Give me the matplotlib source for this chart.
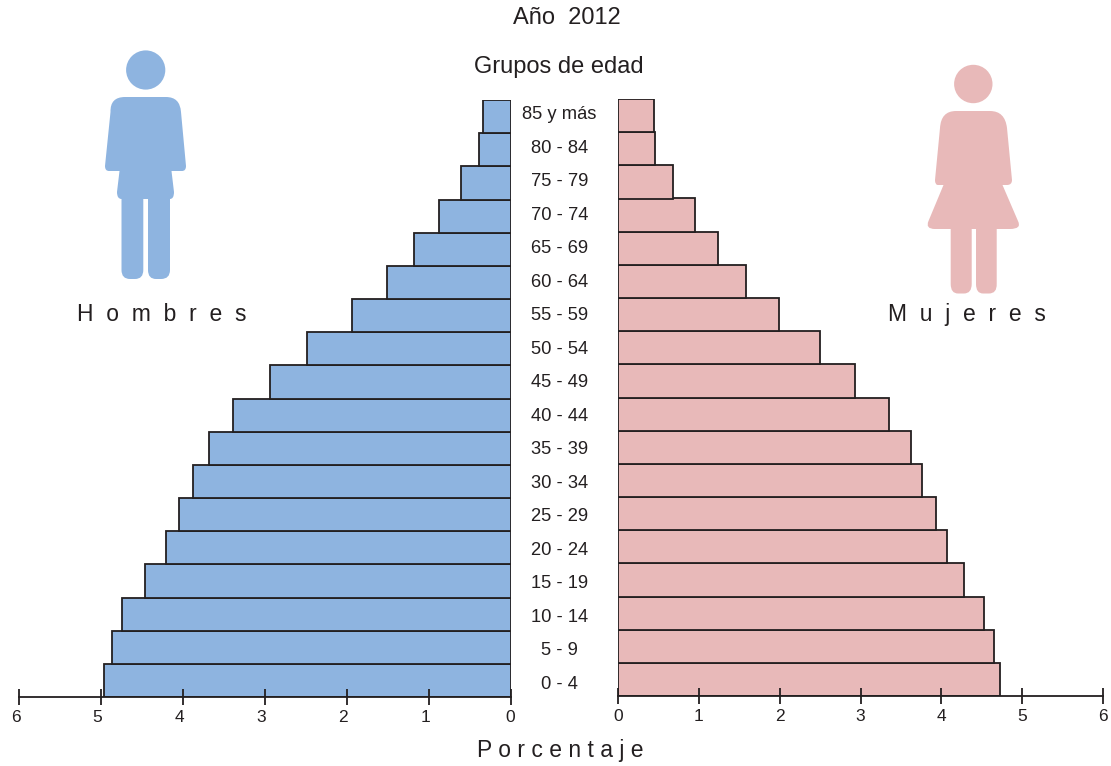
import matplotlib
matplotlib.use('Agg')
import matplotlib.pyplot as plt
from matplotlib.path import Path
from matplotlib.patches import PathPatch, Circle
from matplotlib.transforms import ScaledTranslation

plt.rcParams['font.family'] = ['Liberation Sans', 'DejaVu Sans']

# groups from the bottom of the pyramid upwards
age_groups = ['0 - 4', '5 - 9', '10 - 14', '15 - 19', '20 - 24', '25 - 29', '30 - 34', '35 - 39', '40 - 44',
              '45 - 49', '50 - 54', '55 - 59', '60 - 64', '65 - 69', '70 - 74', '75 - 79', '80 - 84', '85 y más']
men = [4.96, 4.87, 4.74, 4.46, 4.21, 4.05, 3.88, 3.68, 3.39,
       2.94, 2.48, 1.94, 1.51, 1.18, 0.87, 0.60, 0.385, 0.34]
women = [4.73, 4.65, 4.53, 4.28, 4.07, 3.94, 3.76, 3.63, 3.35,
         2.93, 2.50, 1.99, 1.58, 1.24, 0.95, 0.68, 0.46, 0.445]
ticks = [0, 1, 2, 3, 4, 5, 6]

W, H = 1111, 766
BLUE = '#8eb4e0'
PINK = '#e8b9b9'
INK = '#231f20'


def px_axes(fig, x0, x1, y_top, y_bottom):
    return fig.add_axes([x0 / W, 1 - y_bottom / H, (x1 - x0) / W, (y_bottom - y_top) / H])


def style_axis(ax):
    for side in ['top', 'left', 'right']:
        ax.spines[side].set_visible(False)
    ax.spines['bottom'].set_linewidth(1.3)
    ax.spines['bottom'].set_color(INK)
    ax.set_ylim(0, 18)
    ax.set_yticks([])
    ax.set_xticks(ticks)
    ax.tick_params(axis='x', direction='inout', length=11, width=1.3, color=INK,
                   labelcolor=INK, labelsize=12.5, pad=4)
    ax.patch.set_alpha(0)


def smooth_shape(ax, points, color):
    # each point is (x, y, rounded?); rounded corners become quadratic curves
    verts, codes = [], []
    for i, (x, y, rounded) in enumerate(points):
        if i == 0:
            verts.append((x, y))
            codes.append(Path.MOVETO)
        elif rounded:
            nx, ny, _ = points[(i + 1) % len(points)]
            verts += [(x, y), (nx, ny)]
            codes += [Path.CURVE3, Path.CURVE3]
        elif not points[i - 1][2]:
            verts.append((x, y))
            codes.append(Path.LINETO)
    verts.append(verts[0])
    codes.append(Path.CLOSEPOLY)
    ax.add_patch(PathPatch(Path(verts, codes), facecolor=color, edgecolor='none'))


fig = plt.figure(figsize=(W / 100, H / 100), dpi=100)

ax_m = px_axes(fig, 19, 510.5, 100, 697)
ax_m.barh(range(18), men, height=1, align='edge', color=BLUE, edgecolor=INK, linewidth=1.3)
ax_m.set_xlim(6, 0)
style_axis(ax_m)
# labels on the men's side sit a little left of their ticks, except the 0
shift = ScaledTranslation(-3.5 / 100, 0, fig.dpi_scale_trans)
for lab, t in zip(ax_m.get_xticklabels(), ticks):
    if t != 0:
        lab.set_transform(lab.get_transform() + shift)

ax_w = px_axes(fig, 618, 1103, 99, 696)
ax_w.barh(range(18), women, height=1, align='edge', color=PINK, edgecolor=INK, linewidth=1.3)
ax_w.set_xlim(0, 6)
style_axis(ax_w)

# overlay in pixel coordinates for the texts and the figures
ov = fig.add_axes([0, 0, 1, 1])
ov.set_xlim(0, W)
ov.set_ylim(H, 0)
ov.axis('off')
ov.patch.set_alpha(0)

for i, label in enumerate(age_groups):
    ov.text(559.5, 684.5 - i * 33.53, label, ha='center', va='center', fontsize=13.2, color=INK)

ov.text(567, 17.5, 'Año  2012', ha='center', va='center', fontsize=17, color=INK)
ov.text(559, 66.5, 'Grupos de edad', ha='center', va='center', fontsize=17, color=INK)
ov.text(162, 314.5, 'H  o  m  b  r  e  s', ha='center', va='center', fontsize=16.5, color=INK)
ov.text(966.5, 314.5, 'M  u  j  e  r  e  s', ha='center', va='center', fontsize=16.5, color=INK)
ov.text(560.5, 750, 'P o r c e n t a j e', ha='center', va='center', fontsize=16.5, color=INK)

# man
ov.add_patch(Circle((145.7, 70), 19.6, facecolor=BLUE, edgecolor='none'))
man = [(125, 97, False), (110, 97, True), (110.5, 112, False), (105, 166, False), (105, 171, True), (109, 171, False),
       (119.5, 171, False), (117, 192, False), (117, 199, True), (121.5, 199, False),
       (121.5, 270, False), (121.5, 279, True), (130, 279, False), (135, 279, False), (143.3, 279, True),
       (143.3, 270, False), (143.3, 199, False), (148, 199, False),
       (148, 270, False), (148, 279, True), (156, 279, False), (161, 279, False), (170, 279, True),
       (170, 270, False), (170, 199, False), (174, 199, True), (174, 192, False),
       (171.5, 171, False), (182, 171, False), (186, 171, True), (186, 166, False),
       (181, 112, False), (180, 97, True), (166, 97, False)]
smooth_shape(ov, man, BLUE)

# woman
ov.add_patch(Circle((973.3, 84), 19.2, facecolor=PINK, edgecolor='none'))
woman = [(956, 111, False), (941, 111, True), (940, 128, False), (935, 180, False), (935, 185, True), (938, 185, False),
         (943.5, 185, False), (928.5, 221, False), (925, 229, True), (935, 229, False),
         (950.7, 229, False), (950.7, 284, False), (950.7, 293.5, True), (958, 293.5, False), (964, 293.5, False),
         (971.7, 293.5, True), (971.7, 284, False), (971.7, 229, False), (976, 229, False),
         (976, 284, False), (976, 293.5, True), (983, 293.5, False), (989, 293.5, False), (997, 293.5, True),
         (996.7, 284, False), (996.7, 229, False), (1010, 229, False), (1022, 229, True), (1018, 221, False),
         (1002.5, 185, False), (1007, 185, False), (1012, 185, True), (1012, 180, False),
         (1007, 128, False), (1005, 111, True), (990, 111, False)]
smooth_shape(ov, woman, PINK)

fig.savefig('out.png', dpi=100)
